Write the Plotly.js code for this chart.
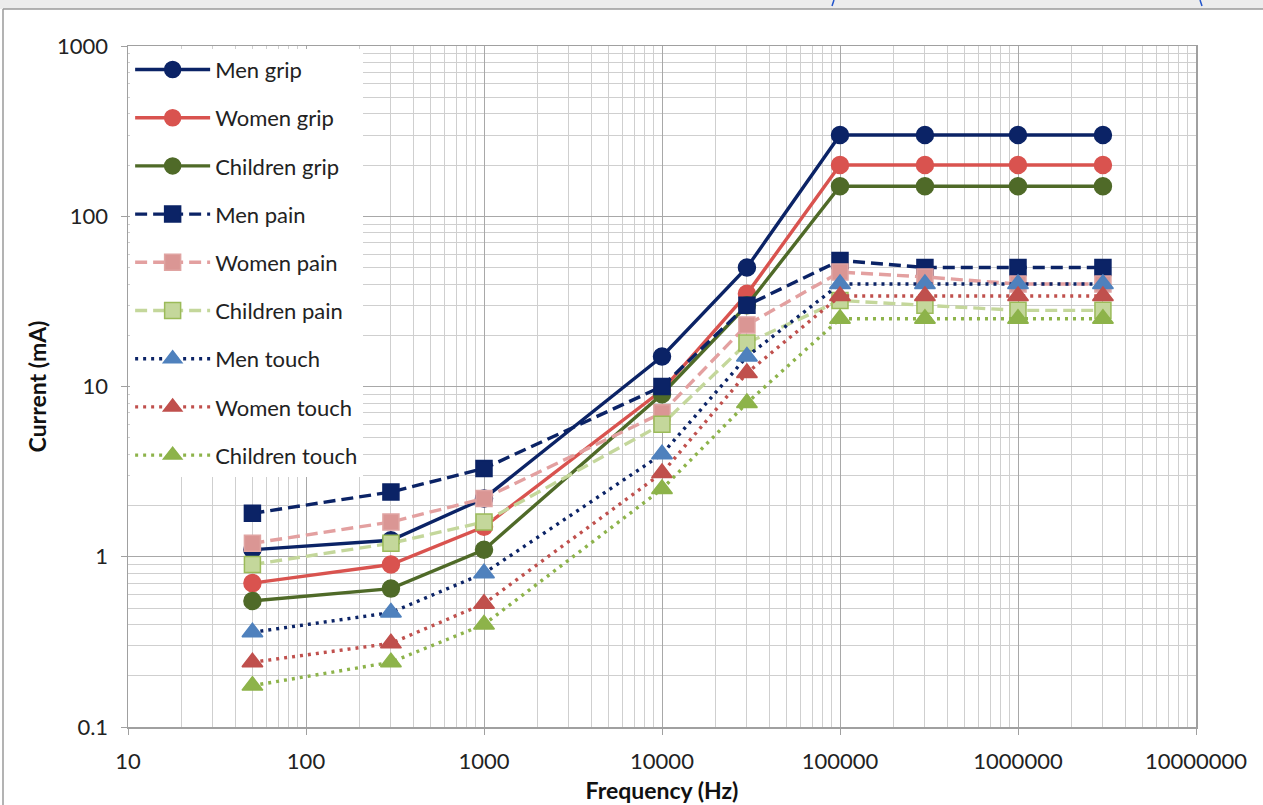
<!DOCTYPE html>
<html>
<head>
<meta charset="utf-8">
<script src="https://cdn.plot.ly/plotly-3.0.1.min.js"></script>
<style>
html,body{margin:0;padding:0;background:#fff;}
#chart{width:1263px;height:805px;}
</style>
</head>
<body>
<div id="chart"></div>
<script>
// ---- data ----
const freq = [50, 300, 1000, 10000, 30000, 100000, 300000, 1000000, 3000000];
const seriesNames = ["Men grip","Women grip","Children grip","Men pain","Women pain","Children pain","Men touch","Women touch","Children touch"];
const menGrip      = [1.1, 1.25, 2.2, 15, 50, 300, 300, 300, 300];
const womenGrip    = [0.7, 0.9, 1.5, 9.5, 35, 200, 200, 200, 200];
const childrenGrip = [0.55, 0.65, 1.1, 9, 30, 150, 150, 150, 150];
const menPain      = [1.8, 2.4, 3.3, 10, 30, 55, 50, 50, 50];
const womenPain    = [1.2, 1.6, 2.2, 7, 23, 47, 44, 40, 40];
const childrenPain = [0.9, 1.2, 1.6, 6, 18, 32, 30, 28, 28];
const menTouch     = [0.36, 0.47, 0.8, 4, 15, 40, 40, 40, 40];
const womenTouch   = [0.24, 0.31, 0.53, 3.1, 12, 34, 34, 34, 34];
const childrenTouch= [0.175, 0.24, 0.4, 2.5, 8, 25, 25, 25, 25];
const xTickVals = [10, 100, 1000, 10000, 100000, 1000000, 10000000];
const xTickText = ["10","100","1000","10000","100000","1000000","10000000"];
const yTickVals = [0.1, 1, 10, 100, 1000];
const yTickText = ["0.1","1","10","100","1000"];

const values = [menGrip, womenGrip, childrenGrip, menPain, womenPain, childrenPain, menTouch, womenTouch, childrenTouch];

const styles = [
  {lc:"#0b2366", dash:"solid", sym:"circle", mc:"#0b2366", ml:"#0b2366", ms:17},
  {lc:"#d9534f", dash:"solid", sym:"circle", mc:"#d9534f", ml:"#d9534f", ms:17},
  {lc:"#4f6a28", dash:"solid", sym:"circle", mc:"#4f6a28", ml:"#4f6a28", ms:17},
  {lc:"#0b2366", dash:"12px,6px", sym:"square", mc:"#0b2366", ml:"#0b2366", ms:16},
  {lc:"#e3a0a0", dash:"12px,6px", sym:"square", mc:"#da9694", ml:"#e0a4a2", ms:16},
  {lc:"#c4d79b", dash:"12px,6px", sym:"square", mc:"#c4d79b", ml:"#9bbb59", ms:16},
  {lc:"#0b2366", dash:"3px,5px", sym:"triangle-up", mc:"#4f81bd", ml:"#4f81bd", ms:18},
  {lc:"#c0504d", dash:"3px,5px", sym:"triangle-up", mc:"#c0504d", ml:"#c0504d", ms:18},
  {lc:"#8db34a", dash:"3px,5px", sym:"triangle-up", mc:"#8db34a", ml:"#8db34a", ms:18}
];

const traces = values.map((v, i) => ({
  type: "scatter",
  mode: "lines+markers",
  name: seriesNames[i],
  legendgroup: "g" + i,
  x: freq,
  y: v,
  line: {color: styles[i].lc, width: 3.4, dash: styles[i].dash},
  marker: {symbol: styles[i].sym, size: styles[i].ms, color: styles[i].mc,
           line: {color: styles[i].ml, width: 1.5}}
}));

const L = 128, R = 67, T = 46, B = 78, W = 1263, H = 805;
const pw = W - L - R, ph = H - T - B;
const px = p => (p - L) / pw;
const py = p => (H - B - p) / ph;

const shapes = [
  {type:"rect", xref:"paper", yref:"paper", x0:px(0), x1:px(W), y0:py(9), y1:py(0),
   fillcolor:"#ececec", line:{width:0}, layer:"below"},
  {type:"line", xref:"paper", yref:"paper", x0:px(3), x1:px(W), y0:py(9), y1:py(9),
   line:{color:"#9a9a9a", width:1.5}},
  {type:"line", xref:"paper", yref:"paper", x0:px(3), x1:px(3), y0:py(9), y1:py(H),
   line:{color:"#9a9a9a", width:1.5}},
  {type:"line", xref:"paper", yref:"paper", x0:px(832), x1:px(834), y0:py(6), y1:py(0),
   line:{color:"#2255cc", width:1.5}},
  {type:"line", xref:"paper", yref:"paper", x0:px(1202), x1:px(1200), y0:py(6), y1:py(0),
   line:{color:"#2255cc", width:1.5}}
];

const font = "Lato, 'Liberation Sans', sans-serif";

const layout = {
  width: W, height: H,
  margin: {l: L, r: R, t: T, b: B, pad: 0},
  paper_bgcolor: "#ffffff",
  plot_bgcolor: "#ffffff",
  showlegend: true,
  font: {family: font, color: "#222", size: 22},
  legend: {
    x: 0.002, y: 0.996, xanchor: "left", yanchor: "top",
    bgcolor: "#ffffff", borderwidth: 0,
    font: {family: font, size: 22, color: "#222"},
    tracegroupgap: 16.6,
    itemwidth: 75
  },
  xaxis: {
    type: "log",
    range: [1, 7],
    tickvals: xTickVals, ticktext: xTickText,
    showgrid: true, gridcolor: "#a8a8a8", gridwidth: 1,
    minor: {dtick: "D1", showgrid: true, gridcolor: "#cfcfcf", gridwidth: 1, ticks: ""},
    showline: true, linecolor: "#a0a0a0", linewidth: 1.5, mirror: true,
    ticks: "outside", ticklen: 6, tickcolor: "#a0a0a0",
    ticklabelstandoff: 8,
    tickfont: {family: font, size: 22, color: "#222"},
    zeroline: false,
    title: {text: "<b>Frequency (Hz)</b>", font: {family: font, size: 23, color: "#111"}, standoff: 10}
  },
  yaxis: {
    type: "log",
    range: [-1, 3],
    tickvals: yTickVals, ticktext: yTickText,
    showgrid: true, gridcolor: "#a8a8a8", gridwidth: 1,
    minor: {dtick: "D1", showgrid: true, gridcolor: "#cfcfcf", gridwidth: 1, ticks: ""},
    showline: true, linecolor: "#a0a0a0", linewidth: 1.5, mirror: true,
    ticks: "outside", ticklen: 6, tickcolor: "#a0a0a0",
    ticklabelstandoff: 8,
    tickfont: {family: font, size: 22, color: "#222"},
    zeroline: false,
    title: {text: "<b>Current (mA)</b>", font: {family: font, size: 23, color: "#111"}, standoff: 4}
  },
  shapes: shapes
};

Plotly.newPlot("chart", traces, layout, {displayModeBar: false, staticPlot: true});
</script>
</body>
</html>
